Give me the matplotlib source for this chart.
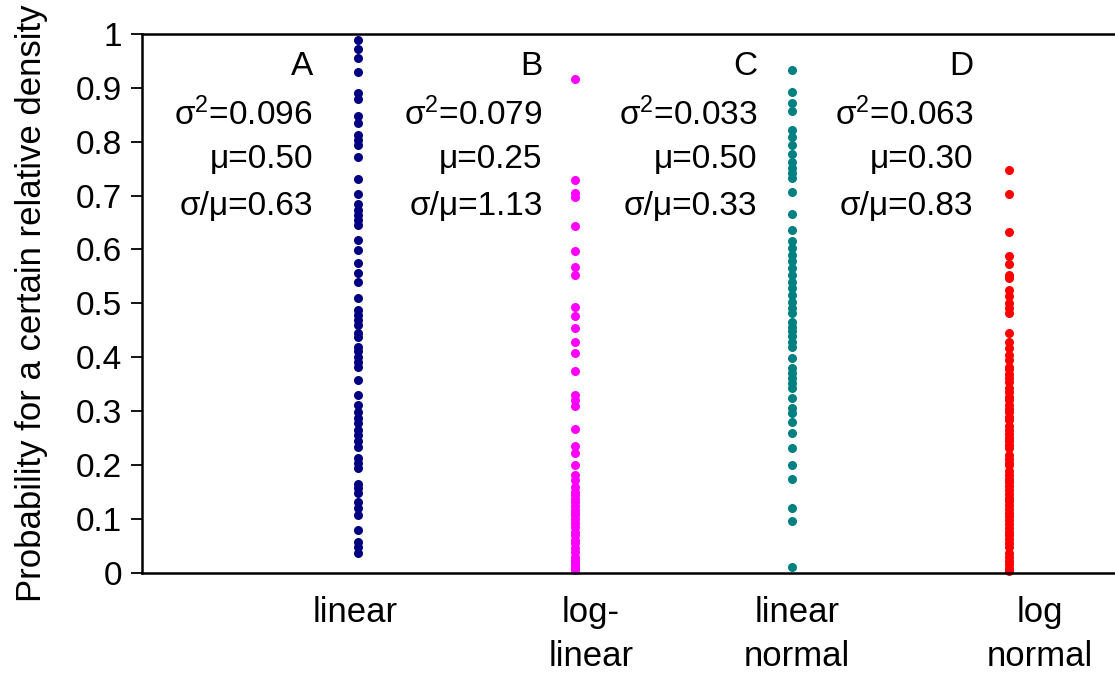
import matplotlib
matplotlib.use("Agg")
import matplotlib.pyplot as plt
import matplotlib.ticker as ticker
import matplotlib.transforms as mtransforms

plt.rcParams["font.family"] = ["Liberation Sans", "DejaVu Sans"]
plt.rcParams["mathtext.fontset"] = "custom"
plt.rcParams["mathtext.rm"] = "Liberation Sans"
plt.rcParams["mathtext.it"] = "Liberation Sans"

# probabilities per relative-density scheme
linear = [
    0.989, 0.972, 0.955, 0.930, 0.890, 0.879, 0.847, 0.834, 0.813, 0.803,
    0.793, 0.772, 0.731, 0.703, 0.684, 0.673, 0.664, 0.655, 0.646, 0.618,
    0.599, 0.575, 0.556, 0.540, 0.510, 0.488, 0.479, 0.469, 0.460, 0.445,
    0.438, 0.420, 0.411, 0.401, 0.392, 0.383, 0.358, 0.330, 0.312, 0.299,
    0.287, 0.278, 0.265, 0.256, 0.244, 0.234, 0.213, 0.204, 0.194, 0.166,
    0.157, 0.148, 0.132, 0.120, 0.108, 0.080, 0.058, 0.049, 0.037,
]
log_linear = [
    0.917, 0.728, 0.704, 0.697, 0.643, 0.598, 0.568, 0.553, 0.494, 0.477,
    0.454, 0.429, 0.408, 0.375, 0.330, 0.320, 0.309, 0.268, 0.236, 0.222,
    0.200, 0.182, 0.173, 0.160, 0.150, 0.145, 0.138, 0.132, 0.125, 0.117,
    0.112, 0.108, 0.100, 0.092, 0.085, 0.077, 0.070, 0.061, 0.055, 0.046,
    0.040, 0.030, 0.025, 0.020, 0.015, 0.010, 0.005,
]
linear_normal = [
    0.932, 0.892, 0.871, 0.857, 0.822, 0.808, 0.793, 0.777, 0.763, 0.751,
    0.741, 0.732, 0.707, 0.665, 0.636, 0.615, 0.602, 0.590, 0.578, 0.565,
    0.553, 0.540, 0.528, 0.516, 0.503, 0.491, 0.482, 0.466, 0.457, 0.448,
    0.439, 0.429, 0.420, 0.399, 0.380, 0.371, 0.361, 0.352, 0.343, 0.324,
    0.306, 0.296, 0.281, 0.259, 0.232, 0.200, 0.174, 0.121, 0.096, 0.012,
]
log_normal = [
    0.748, 0.703, 0.633, 0.588, 0.573, 0.553, 0.547, 0.525, 0.513, 0.500,
    0.491, 0.482, 0.445, 0.429, 0.417, 0.404, 0.395, 0.383, 0.378, 0.370,
    0.362, 0.355, 0.343, 0.335, 0.327, 0.320, 0.312, 0.305, 0.298, 0.290,
    0.284, 0.272, 0.265, 0.258, 0.251, 0.244, 0.237, 0.231, 0.219, 0.212,
    0.205, 0.200, 0.189, 0.182, 0.175, 0.168, 0.161, 0.154, 0.147, 0.140,
    0.133, 0.126, 0.119, 0.112, 0.105, 0.098, 0.091, 0.084, 0.077, 0.070,
    0.063, 0.056, 0.049, 0.037, 0.030, 0.023, 0.016, 0.009, 0.003,
]

series = [linear, log_linear, linear_normal, log_normal]
colors = ["#000080", "#ff00ff", "#008080", "#ff0000"]
panel_ids = ["A", "B", "C", "D"]
variances = ["0.096", "0.079", "0.033", "0.063"]
means = ["0.50", "0.25", "0.50", "0.30"]
cvs = ["0.63", "1.13", "0.33", "0.83"]
category_labels = ["linear", "log-\nlinear", "linear\nnormal", "log\nnormal"]

fig = plt.figure(figsize=(11.15, 6.75), dpi=100)
ax = fig.add_axes([0.127, 0.151, 0.873, 0.799])

for i, (vals, col) in enumerate(zip(series, colors), start=1):
    ax.plot([i] * len(vals), vals, "o", color=col, markersize=6.5,
            markeredgewidth=0, linestyle="none", clip_on=False)

ax.set_xlim(0, 4.49)
ax.set_ylim(0, 1)
ax.yaxis.set_major_locator(ticker.MultipleLocator(0.1))
ax.yaxis.set_major_formatter(ticker.FuncFormatter(lambda v, _p: f"{v:.1f}".rstrip("0").rstrip(".") if v else "0"))
ax.set_xticks([])
ax.tick_params(axis="y", direction="out", length=8, width=1.3, labelsize=24, pad=6)
ax.set_ylabel("Probability for a certain relative density", fontsize=25, labelpad=20)

for side in ("top", "bottom", "left"):
    ax.spines[side].set_linewidth(1.8)
ax.spines["right"].set_visible(False)

# statistics block beside each column
text_right = [0.79, 1.85, 2.84, 3.835]
for xr, pid, var, mu, cv in zip(text_right, panel_ids, variances, means, cvs):
    ax.text(xr, 0.940, pid, ha="right", va="center", fontsize=24)
    ax.text(xr, 0.850, "σ$^2$=" + var, ha="right", va="center", fontsize=24)
    ax.text(xr, 0.766, "μ=" + mu, ha="right", va="center", fontsize=24)
    ax.text(xr, 0.679, "σ/μ=" + cv, ha="right", va="center", fontsize=24)

# category names under the axis
trans = mtransforms.blended_transform_factory(ax.transData, ax.transAxes)
label_x = [0.983, 2.072, 3.023, 4.144]
for xl, lab in zip(label_x, category_labels):
    ax.text(xl, -0.043, lab, transform=trans, ha="center", va="top",
            fontsize=25, linespacing=1.4)

fig.savefig("out.png", dpi=100)
